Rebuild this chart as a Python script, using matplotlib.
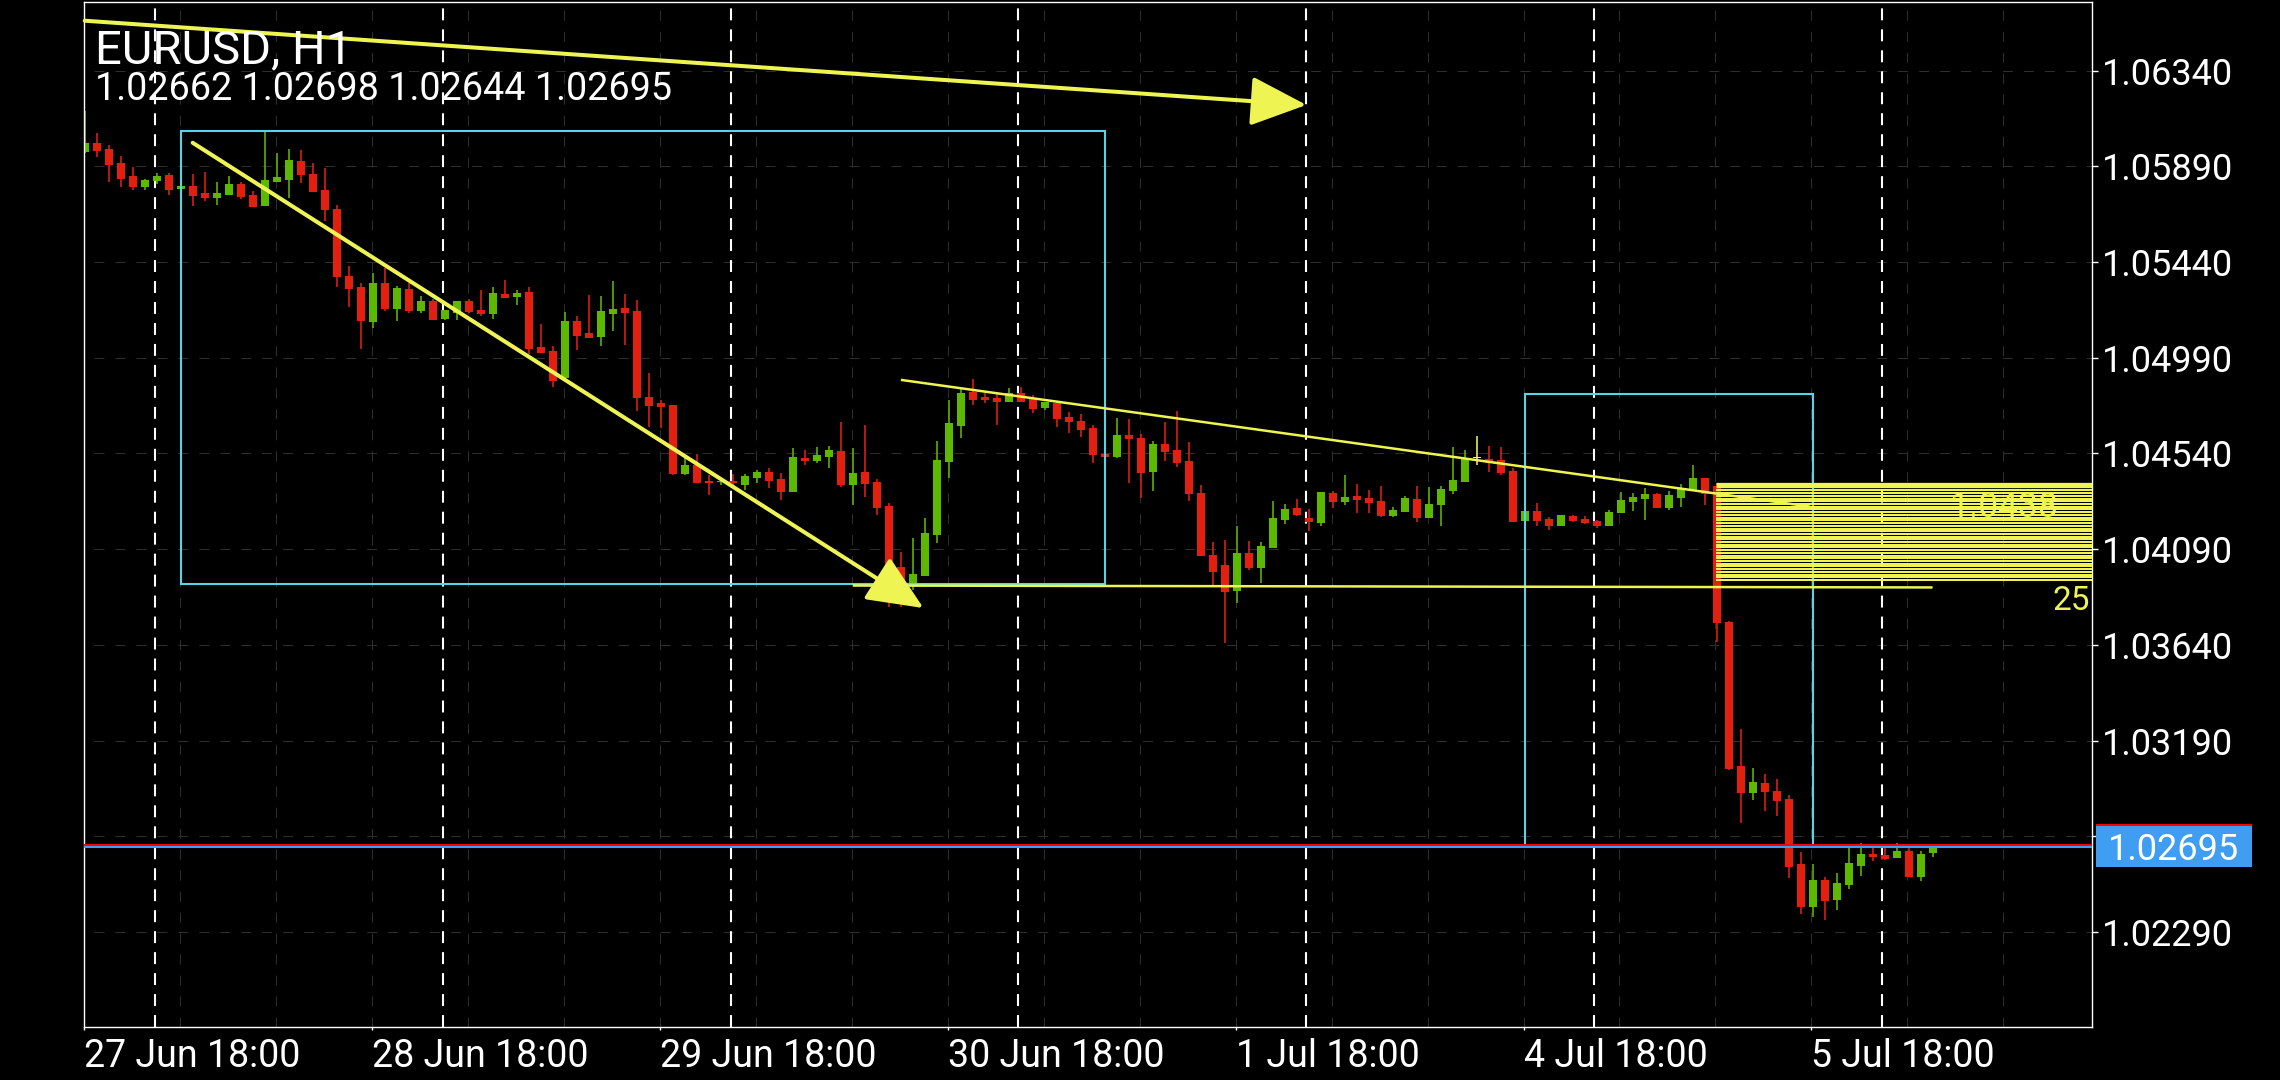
import numpy as np
import pandas as pd
import matplotlib
matplotlib.use("Agg")
import matplotlib.pyplot as plt
import matplotlib.transforms as mtransforms
from matplotlib.patches import Rectangle

plt.rcParams['font.family'] = ['Roboto', 'DejaVu Sans']
plt.rcParams['lines.scale_dashes'] = False

# --- data -------------------------------------------------------------------
symbol = "EURUSD, H1"
first_bar = "2022-06-27 18:00"

opens = [
    1.05958, 1.06000, 1.05972, 1.05906, 1.05845, 1.05793, 1.05821, 1.05849, 1.05784, 1.05798,
    1.05765, 1.05741, 1.05755, 1.05807, 1.05755, 1.05704, 1.05817, 1.05826, 1.05915, 1.05854,
    1.05779, 1.05690, 1.05375, 1.05323, 1.05158, 1.05342, 1.05219, 1.05313, 1.05210, 1.05257,
    1.05172, 1.05201, 1.05257, 1.05215, 1.05196, 1.05290, 1.05276, 1.05299, 1.05041, 1.05022,
    1.04895, 1.05163, 1.05107, 1.05088, 1.05196, 1.05224, 1.05210, 1.04806, 1.04777, 1.04768,
    1.04444, 1.04486, 1.04411, 1.04406, 1.04411, 1.04392, 1.04425, 1.04453, 1.04420, 1.04359,
    1.04519, 1.04505, 1.04524, 1.04552, 1.04392, 1.04453, 1.04406, 1.04293, 1.04006, 1.03931,
    1.03964, 1.04157, 1.04500, 1.04669, 1.04829, 1.04806, 1.04801, 1.04782, 1.04824, 1.04796,
    1.04754, 1.04777, 1.04712, 1.04693, 1.04660, 1.04538, 1.04524, 1.04627, 1.04613, 1.04453,
    1.04585, 1.04556, 1.04505, 1.04354, 1.04063, 1.04016, 1.03893, 1.04072, 1.04002, 1.04096,
    1.04227, 1.04284, 1.04237, 1.04213, 1.04354, 1.04312, 1.04340, 1.04331, 1.04317, 1.04246,
    1.04265, 1.04326, 1.04237, 1.04298, 1.04364, 1.04406, 1.04519, 1.04514, 1.04509, 1.04458,
    1.04223, 1.04270, 1.04232, 1.04199, 1.04246, 1.04232, 1.04223, 1.04199, 1.04260, 1.04312,
    1.04326, 1.04350, 1.04284, 1.04331, 1.04368, 1.04425, 1.04387, 1.03748, 1.03071, 1.02944,
    1.02991, 1.02953, 1.02915, 1.02610, 1.02408, 1.02535, 1.02440, 1.02511, 1.02600, 1.02657,
    1.02652, 1.02638, 1.02671, 1.02549, 1.02662,
]
highs = [
    1.06150, 1.06047, 1.05991, 1.05939, 1.05887, 1.05831, 1.05859, 1.05859, 1.05802, 1.05854,
    1.05864, 1.05817, 1.05845, 1.05817, 1.05774, 1.06052, 1.05953, 1.05972, 1.05967, 1.05906,
    1.05882, 1.05708, 1.05422, 1.05342, 1.05389, 1.05412, 1.05328, 1.05342, 1.05281, 1.05266,
    1.05215, 1.05257, 1.05266, 1.05309, 1.05323, 1.05356, 1.05309, 1.05323, 1.05149, 1.05045,
    1.05205, 1.05187, 1.05285, 1.05281, 1.05351, 1.05290, 1.05262, 1.04918, 1.04791, 1.04768,
    1.04519, 1.04538, 1.04439, 1.04415, 1.04444, 1.04444, 1.04462, 1.04472, 1.04448, 1.04566,
    1.04556, 1.04571, 1.04575, 1.04688, 1.04566, 1.04674, 1.04420, 1.04307, 1.04077, 1.04143,
    1.04237, 1.04599, 1.04791, 1.04843, 1.04890, 1.04824, 1.04824, 1.04848, 1.04853, 1.04815,
    1.04782, 1.04782, 1.04735, 1.04726, 1.04674, 1.04538, 1.04707, 1.04702, 1.04632, 1.04599,
    1.04688, 1.04740, 1.04594, 1.04392, 1.04124, 1.04133, 1.04199, 1.04128, 1.04124, 1.04317,
    1.04302, 1.04326, 1.04279, 1.04359, 1.04364, 1.04439, 1.04397, 1.04368, 1.04387, 1.04288,
    1.04340, 1.04387, 1.04382, 1.04387, 1.04571, 1.04556, 1.04622, 1.04575, 1.04571, 1.04472,
    1.04270, 1.04307, 1.04241, 1.04251, 1.04251, 1.04246, 1.04227, 1.04274, 1.04359, 1.04354,
    1.04378, 1.04354, 1.04364, 1.04397, 1.04486, 1.04425, 1.04401, 1.03752, 1.03245, 1.03061,
    1.03033, 1.03009, 1.02934, 1.02666, 1.02610, 1.02549, 1.02567, 1.02704, 1.02708, 1.02690,
    1.02699, 1.02708, 1.02685, 1.02671, 1.02698,
]
lows = [
    1.05953, 1.05934, 1.05817, 1.05793, 1.05779, 1.05779, 1.05807, 1.05755, 1.05779, 1.05704,
    1.05727, 1.05708, 1.05755, 1.05737, 1.05699, 1.05704, 1.05817, 1.05741, 1.05812, 1.05770,
    1.05633, 1.05323, 1.05229, 1.05031, 1.05130, 1.05210, 1.05163, 1.05201, 1.05201, 1.05168,
    1.05168, 1.05168, 1.05201, 1.05187, 1.05172, 1.05271, 1.05238, 1.05008, 1.05012, 1.04853,
    1.04895, 1.05027, 1.05083, 1.05045, 1.05116, 1.05050, 1.04740, 1.04665, 1.04660, 1.04439,
    1.04439, 1.04401, 1.04345, 1.04392, 1.04382, 1.04368, 1.04401, 1.04378, 1.04321, 1.04359,
    1.04486, 1.04495, 1.04472, 1.04382, 1.04298, 1.04335, 1.04251, 1.03818, 1.03818, 1.03898,
    1.03964, 1.04119, 1.04425, 1.04613, 1.04768, 1.04777, 1.04674, 1.04782, 1.04782, 1.04730,
    1.04745, 1.04665, 1.04636, 1.04618, 1.04495, 1.04524, 1.04519, 1.04401, 1.04331, 1.04364,
    1.04505, 1.04476, 1.04317, 1.04058, 1.03922, 1.03649, 1.03837, 1.03992, 1.03931, 1.04096,
    1.04208, 1.04246, 1.04176, 1.04199, 1.04284, 1.04298, 1.04260, 1.04260, 1.04241, 1.04241,
    1.04265, 1.04218, 1.04237, 1.04199, 1.04350, 1.04406, 1.04486, 1.04453, 1.04439, 1.04218,
    1.04223, 1.04199, 1.04180, 1.04199, 1.04218, 1.04208, 1.04190, 1.04199, 1.04260, 1.04270,
    1.04227, 1.04284, 1.04274, 1.04288, 1.04368, 1.04298, 1.03654, 1.03052, 1.02803, 1.02911,
    1.02859, 1.02835, 1.02544, 1.02375, 1.02361, 1.02346, 1.02393, 1.02492, 1.02553, 1.02624,
    1.02629, 1.02638, 1.02549, 1.02530, 1.02644,
]
closes = [
    1.06000, 1.05962, 1.05896, 1.05831, 1.05793, 1.05826, 1.05845, 1.05779, 1.05798, 1.05751,
    1.05741, 1.05765, 1.05807, 1.05746, 1.05699, 1.05826, 1.05840, 1.05920, 1.05849, 1.05770,
    1.05685, 1.05370, 1.05313, 1.05163, 1.05342, 1.05219, 1.05318, 1.05210, 1.05257, 1.05168,
    1.05215, 1.05257, 1.05205, 1.05196, 1.05295, 1.05271, 1.05295, 1.05031, 1.05012, 1.04881,
    1.05163, 1.05092, 1.05083, 1.05210, 1.05219, 1.05201, 1.04801, 1.04763, 1.04759, 1.04444,
    1.04486, 1.04401, 1.04401, 1.04411, 1.04401, 1.04434, 1.04453, 1.04411, 1.04359, 1.04524,
    1.04505, 1.04533, 1.04556, 1.04392, 1.04448, 1.04397, 1.04284, 1.03931, 1.03931, 1.03973,
    1.04166, 1.04509, 1.04683, 1.04824, 1.04791, 1.04791, 1.04782, 1.04824, 1.04782, 1.04749,
    1.04782, 1.04702, 1.04688, 1.04650, 1.04533, 1.04524, 1.04627, 1.04608, 1.04448, 1.04585,
    1.04547, 1.04495, 1.04350, 1.04058, 1.03983, 1.03889, 1.04072, 1.04002, 1.04105, 1.04237,
    1.04279, 1.04251, 1.04218, 1.04359, 1.04312, 1.04335, 1.04321, 1.04307, 1.04246, 1.04274,
    1.04331, 1.04237, 1.04302, 1.04373, 1.04415, 1.04514, 1.04519, 1.04495, 1.04448, 1.04218,
    1.04270, 1.04223, 1.04199, 1.04251, 1.04223, 1.04213, 1.04199, 1.04265, 1.04321, 1.04335,
    1.04350, 1.04284, 1.04345, 1.04373, 1.04425, 1.04350, 1.03743, 1.03056, 1.02944, 1.02995,
    1.02948, 1.02906, 1.02596, 1.02408, 1.02535, 1.02436, 1.02520, 1.02614, 1.02657, 1.02643,
    1.02633, 1.02671, 1.02549, 1.02657, 1.02695,
]

price_ticks = [1.02290, 1.02740, 1.03190, 1.03640, 1.04090,
               1.04540, 1.04990, 1.05440, 1.05890, 1.06340]
bid = 1.02695
ask = 1.02700

# objects drawn on the chart: (bar index, price)
arrow_top = [(-0.04, 1.06575), (101.8, 1.06179)]
arrow_mid = [(8.96, 1.06001), (69.88, 1.03813)]
trend_line = [(68.0, 1.04886), (143.8, 1.04290)]
support_line = [(64.0, 1.03919), (154.0, 1.03910)]
box_left = [(8.0, 1.03926), (85.0, 1.06056)]
box_right = [(120.0, 1.02695), (144.0, 1.04818)]

fib_start = 135.95
fib_top = 1.04392
fib_levels = [1.04366, 1.04353, 1.04340, 1.04328, 1.04315, 1.04302, 1.04289, 1.04277,
              1.04264, 1.04251, 1.04238, 1.04226, 1.04213, 1.04200, 1.04187, 1.04175,
              1.04162, 1.04149, 1.04136, 1.04124, 1.04111, 1.04098, 1.04085, 1.04072,
              1.04060, 1.04047, 1.04034, 1.04021, 1.04009, 1.03996, 1.03983, 1.03970,
              1.03958, 1.03945]
fib_label = (155.4, 1.04243, "1.0438")
fib_label2 = (164.0, 1.03804, "25")

# --- colours ------------------------------------------------------------------
GREEN = '#5cb800'
RED = '#e3200f'
YELLOW = '#eef552'
CYAN = '#55d6e8'
BLUE = '#3f9ef2'
GRID = '#2e2e2e'

n = len(opens)
o, h, l, c = (np.array(v) for v in (opens, highs, lows, closes))
x = np.arange(n)

hours = pd.date_range(first_bar, periods=24 * 10, freq="h")
times = hours[hours.dayofweek < 5][:n]
label_idx = [i for i, t in enumerate(times) if t.hour == 18]
label_txt = [f"{times[i].day} {times[i]:%b %H:%M}" for i in label_idx]
sep_idx = [i for i, t in enumerate(times) if t.hour == 0]

fig = plt.figure(figsize=(22.8, 10.8), dpi=100, facecolor='black')
ax = fig.add_axes([84 / 2280, 53 / 1080, 2008 / 2280, 1025 / 1080])
ax.set_facecolor('black')
ax.set_xlim(-0.04, 167.29)
ax.set_ylim(1.01843, 1.06663)
y0, y1 = ax.get_ylim()

# grid and period separators
ax.vlines(np.arange(0, 168, 8) - 0.1, y0, y1, colors=GRID, lw=0.75,
          linestyles=(0, (7.2, 7.9)), zorder=0.5)
ax.hlines(price_ticks, -1, 170, colors=GRID, lw=0.75,
          linestyles=(0, (7.2, 7.9)), zorder=0.5)
ax.vlines(np.array(sep_idx) - 0.2, y0, y1, colors='white', lw=1.5,
          linestyles=(0, (8.6, 6.5)), zorder=1)

# candles
colors = np.where(c > o, GREEN, np.where(c < o, RED, YELLOW))
ax.vlines(x, l, h, colors=colors, lw=1.15, zorder=2)
body = np.maximum(np.abs(c - o), 0.00005)
ax.bar(x, body, bottom=np.minimum(o, c), width=0.67, color=colors,
       linewidth=0, zorder=2.1)

# rectangles
for (bx0, p0), (bx1, p1) in (box_left, box_right):
    ax.add_patch(Rectangle((bx0, p0), bx1 - bx0, p1 - p0, fill=False,
                           ec=CYAN, lw=1.5, zorder=3))

# lines
for (lx0, lp0), (lx1, lp1) in (trend_line, support_line):
    ax.plot([lx0, lx1], [lp0, lp1], color=YELLOW, lw=1.8,
            solid_capstyle='butt', zorder=3.5)

# arrows
for start, end in (arrow_top, arrow_mid):
    ax.annotate('', xy=end, xytext=start,
                arrowprops=dict(arrowstyle='-|>,head_length=35,head_width=15.5',
                                mutation_scale=1, color=YELLOW, lw=2.9,
                                shrinkA=0, shrinkB=0),
                zorder=3.6)

# fibonacci levels
ax.hlines(fib_top, fib_start, 170, colors=YELLOW, lw=3.8, zorder=3.7)
ax.hlines(fib_levels, fib_start, 170, colors=YELLOW, lw=1.1, zorder=3.7,
          antialiased=False)
ax.text(fib_label[0], fib_label[1], fib_label[2], color=YELLOW, fontsize=25.5,
        va='baseline', ha='left', zorder=3.8)
ax.text(fib_label2[0], fib_label2[1], fib_label2[2], color=YELLOW, fontsize=24,
        va='baseline', ha='left', zorder=3.8)

# bid / ask lines
ax.axhline(bid, color=BLUE, lw=2.2, zorder=4)
ax.axhline(ask, color='#ff0000', lw=1.4, zorder=4.1)

# axes styling
for s in ax.spines.values():
    s.set_color('white')
    s.set_linewidth(1)
ax.yaxis.tick_right()
ax.set_yticks(price_ticks)
ax.set_yticklabels([f"{p:.5f}" for p in price_ticks])
ax.tick_params(axis='y', colors='white', labelsize=26, length=4.3, width=1, pad=3)
ax.set_xticks(np.array(label_idx) - 0.1)
ax.set_xticklabels(label_txt, ha='left')
ax.tick_params(axis='x', colors='white', labelsize=27, length=2.2, width=1, pad=6)

# current price tag
trans = mtransforms.blended_transform_factory(ax.transAxes, ax.transData)
ax.add_patch(Rectangle((1.002, bid - 0.00099), 0.0777, 0.00192, transform=trans,
                       fc=BLUE, ec='none', clip_on=False, zorder=10))
ax.add_patch(Rectangle((1.002, bid + 0.00093), 0.0777, 0.0001, transform=trans,
                       fc='#ff0000', ec='none', clip_on=False, zorder=10))
ax.text(1.008, bid, f"{bid:.5f}", transform=trans, color='white', fontsize=26,
        va='center_baseline', ha='left', clip_on=False, zorder=11)

# header
fig.text(95 / 2280, 1 - 63 / 1080, symbol, color='white', fontsize=34, va='baseline')
fig.text(95 / 2280, 1 - 100 / 1080,
         f"{o[-1]:.5f} {h[-1]:.5f} {l[-1]:.5f} {c[-1]:.5f}",
         color='white', fontsize=27.2, va='baseline')

fig.savefig("out.png", dpi=100, facecolor='black')
